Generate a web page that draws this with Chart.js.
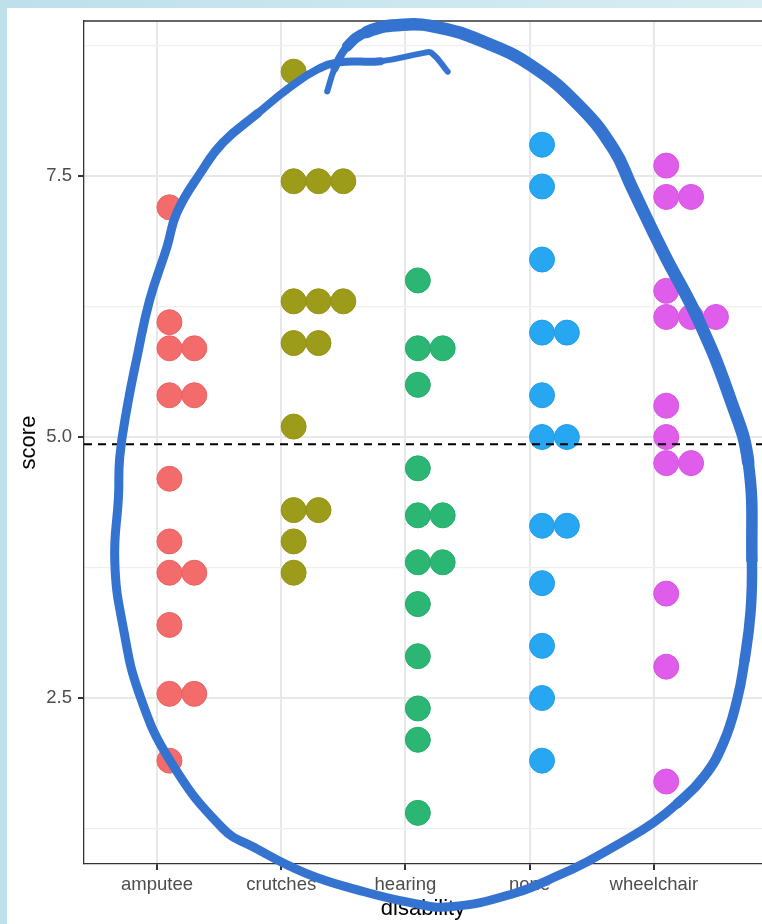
<!DOCTYPE html>
<html>
<head>
<meta charset="utf-8">
<title>score by disability</title>
<script src="https://cdn.jsdelivr.net/npm/chart.js@4.4.1/dist/chart.umd.min.js"></script>
<style>
    html, body { margin: 0; padding: 0; }
    body {
        position: relative;
        width: 762px;
        height: 924px;
        overflow: hidden;
        background: linear-gradient(90deg, #bde0ea, #d9edf2);
    }
    #paper { position: absolute; left: 7px; top: 8px; right: 0; bottom: 0; background: #fff; }
    #myChart { position: absolute; left: 0; top: 0; }
</style>
</head>
<body>
<div id="paper"></div>
<canvas id="myChart" width="762" height="924"></canvas>
<script>
// categories and scores
const disabilities = ['amputee', 'crutches', 'hearing', 'none', 'wheelchair'];
const amputeeScores = [7.2, 6.1, 5.85, 5.85, 5.4, 5.4, 4.6, 4.0, 3.7, 3.7, 3.2, 2.54, 2.54, 1.9];
const crutchesScores = [8.5, 7.45, 7.45, 7.45, 6.3, 6.3, 6.3, 5.9, 5.9, 5.1, 4.3, 4.3, 4.0, 3.7];
const hearingScores = [6.5, 5.85, 5.85, 5.5, 4.7, 4.25, 4.25, 3.8, 3.8, 3.4, 2.9, 2.4, 2.1, 1.4];
const noneScores = [7.8, 7.4, 6.7, 6.0, 6.0, 5.4, 5.0, 5.0, 4.15, 4.15, 3.6, 3.0, 2.5, 1.9];
const wheelchairScores = [7.6, 7.3, 7.3, 6.4, 6.15, 6.15, 6.15, 5.3, 5.0, 4.75, 4.75, 3.5, 2.8, 1.7];
const meanScore = 4.93;
const yTickLabels = [2.5, 5.0, 7.5];

// hand drawn loop on top of the chart, in (category, score) units
const loopX = [1.37, 1.43, 1.53, 1.69, 1.98, 2.28, 2.60, 3.01, 3.41, 3.68, 3.82, 4.08, 4.36, 4.62, 4.76,
    4.79, 4.78, 4.73, 4.67, 4.56, 4.40, 4.19, 3.99, 3.73, 3.46, 3.25, 2.88, 2.36, 2.04, 1.62, 1.20,
    0.78, 0.53, 0.11, -0.14, -0.27, -0.34, -0.31, -0.30, -0.24, -0.16, -0.06, 0.08, 0.16, 0.35, 0.53,
    0.81, 1.07, 1.29, 1.47, 1.80, 2.15, 2.21, 2.34];
const loopY = [8.31, 8.53, 8.74, 8.88, 8.95, 8.92, 8.80, 8.56, 8.16, 7.75, 7.40, 6.76, 6.12, 5.35, 4.76,
    3.82, 3.34, 2.86, 2.48, 2.07, 1.74, 1.49, 1.30, 1.11, 0.93, 0.81, 0.63, 0.50, 0.54, 0.66, 0.82,
    1.07, 1.25, 1.89, 2.53, 3.16, 3.80, 4.44, 4.81, 5.29, 5.77, 6.31, 6.82, 7.15, 7.53, 7.82,
    8.10, 8.35, 8.52, 8.59, 8.60, 8.68, 8.68, 8.50];

const xMin = -0.588, xMax = 4.871;
const yMin = 0.91, yMax = 8.985;
const dotOffset = 0.1, dotStep = 0.2;
const fontFamily = '"Liberation Sans", Arial, Helvetica, sans-serif';

const groups = [
    { scores: amputeeScores, color: '#f36b6b', edge: '#e86262' },
    { scores: crutchesScores, color: '#9c9c1a', edge: '#939314' },
    { scores: hearingScores, color: '#2bb673', edge: '#24ad6b' },
    { scores: noneScores, color: '#27a6f1', edge: '#229de6' },
    { scores: wheelchairScores, color: '#e05dec', edge: '#d655e2' }
];

// ggplot style minor breaks half way between the labelled ones
const ySteps = yTickLabels[1] - yTickLabels[0];
const yAllTicks = [];
yTickLabels.forEach(v => { yAllTicks.push(v - ySteps / 2, v); });
yAllTicks.push(yTickLabels[yTickLabels.length - 1] + ySteps / 2);

function stackDots(scores, catIndex) {
    const seen = {};
    return scores.map(v => {
        const k = seen[v] || 0;
        seen[v] = k + 1;
        return { x: catIndex + dotOffset + k * dotStep, y: v };
    });
}

// pen pressure of the loop: thin start, heavy top arc, lighter body, thin end
function loopWidth(i) {
    if (i < 1) return 6;
    if (i < 2) return 8;
    if (i < 3) return 10.5;
    if (i < 14) return 12.5;
    if (i < 15) return 11.5;
    if (i < 17) return 10.5;
    if (i < 21) return 10;
    if (i < 46) return 9;
    if (i < 50) return 8;
    return 6;
}

const panelTop = {
    id: 'panelTop',
    beforeDatasetsDraw(chart) {
        const { ctx, chartArea } = chart;
        ctx.save();
        ctx.strokeStyle = '#333';
        ctx.lineWidth = 1.3;
        ctx.beginPath();
        ctx.moveTo(chartArea.left, chartArea.top);
        ctx.lineTo(chartArea.right, chartArea.top);
        ctx.stroke();
        ctx.restore();
    }
};

const datasets = [];

datasets.push({
    type: 'line',
    label: 'loop',
    data: loopX.map((x, i) => ({ x: x, y: loopY[i] })),
    borderColor: '#3573d1',
    borderWidth: 9,
    borderCapStyle: 'round',
    borderJoinStyle: 'round',
    segment: {
        borderWidth: (c) => loopWidth(c.p0DataIndex)
    },
    tension: 0.45,
    pointRadius: 0,
    fill: false,
    clip: false,
    order: 0
});

datasets.push({
    type: 'line',
    label: 'mean',
    data: [{ x: xMin, y: meanScore }, { x: xMax, y: meanScore }],
    borderColor: '#000',
    borderWidth: 2,
    borderDash: [8, 6],
    pointRadius: 0,
    fill: false,
    order: 1
});

groups.forEach((g, i) => {
    datasets.push({
        type: 'scatter',
        label: disabilities[i],
        data: stackDots(g.scores, i),
        pointRadius: 12.5,
        pointBorderWidth: 1,
        pointBackgroundColor: g.color,
        pointBorderColor: g.edge,
        order: 2
    });
});

const ctx = document.getElementById('myChart').getContext('2d');

const myChart = new Chart(ctx, {
    type: 'scatter',
    data: { datasets: datasets },
    plugins: [panelTop],
    options: {
        responsive: false,
        devicePixelRatio: 1,
        animation: false,
        events: [],
        layout: { autoPadding: false, padding: { top: 21, right: 0, bottom: 0, left: 0 } },
        elements: { line: { capBezierPoints: false } },
        plugins: {
            legend: { display: false },
            tooltip: { enabled: false }
        },
        scales: {
            x: {
                type: 'linear',
                min: xMin,
                max: xMax,
                afterBuildTicks: (scale) => {
                    scale.ticks = disabilities.map((d, i) => ({ value: i }));
                },
                afterFit: (scale) => {
                    scale.height = 60;
                    scale.paddingLeft = 0;
                    scale.paddingRight = 0;
                },
                ticks: {
                    autoSkip: false,
                    maxRotation: 0,
                    padding: 4,
                    color: '#4d4d4d',
                    font: { family: fontFamily, size: 18.5 },
                    callback: (value) => disabilities[value]
                },
                grid: {
                    color: '#e8e8e8',
                    lineWidth: 2,
                    tickColor: '#333',
                    tickLength: 6
                },
                border: { color: '#333', width: 1.3 },
                title: {
                    display: true,
                    text: 'disability',
                    color: '#000',
                    font: { family: fontFamily, size: 22 },
                    padding: { top: 0, bottom: 2 }
                }
            },
            y: {
                type: 'linear',
                min: yMin,
                max: yMax,
                afterBuildTicks: (scale) => {
                    scale.ticks = yAllTicks.map(v => ({ value: v }));
                },
                afterFit: (scale) => { scale.width = 84; },
                ticks: {
                    autoSkip: false,
                    padding: 6,
                    color: '#4d4d4d',
                    font: { family: fontFamily, size: 18.5 },
                    callback: (value) => yTickLabels.includes(value) ? value.toFixed(1) : ''
                },
                grid: {
                    color: (c) => yTickLabels.includes(c.tick.value) ? '#e8e8e8' : '#efefef',
                    lineWidth: (c) => yTickLabels.includes(c.tick.value) ? 2 : 1.2,
                    tickColor: (c) => yTickLabels.includes(c.tick.value) ? '#333' : 'rgba(0,0,0,0)',
                    tickLength: 6
                },
                border: { color: '#333', width: 1.3 },
                title: {
                    display: true,
                    text: 'score',
                    color: '#000',
                    font: { family: fontFamily, size: 22 },
                    padding: { top: 16, bottom: 0 }
                }
            }
        }
    }
});
</script>
</body>
</html>
